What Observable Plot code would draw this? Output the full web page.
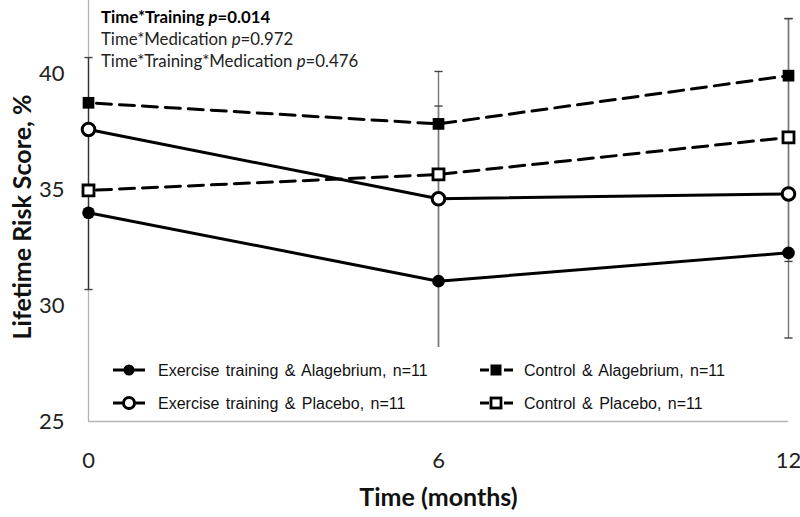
<!DOCTYPE html>
<html>
<head>
<meta charset="utf-8">
<script src="https://cdn.jsdelivr.net/npm/d3@7"></script>
<script src="https://cdn.jsdelivr.net/npm/@observablehq/plot@0.6"></script>
<style>
  html, body { margin: 0; padding: 0; background: #fff; }
  #wrap { position: relative; width: 800px; height: 517px; }
  #note { position: absolute; left: 101px; top: 6px; font-family: Lato, "Open Sans", sans-serif; font-size: 16.8px; line-height: 22px; color: #222; }
  #note .b { font-weight: bold; color: #000; }
  #legend { position: absolute; left: 0; top: 0; pointer-events: none; }
</style>
</head>
<body>
<div id="wrap">
  <div id="chart"></div>
  <div id="note"></div>
  <svg id="legend" width="800" height="517"></svg>
</div>
<script>
// ---- data ----
const months = [0, 6, 12];
const xTicks = [0, 6, 12];
const yTicks = [25, 30, 35, 40];
const seriesNames = [
  "Exercise training & Alagebrium, n=11",
  "Exercise training & Placebo, n=11",
  "Control & Alagebrium, n=11",
  "Control & Placebo, n=11"
];
const exAlag = [34.0, 31.05, 32.27];
const exPlac = [37.59, 34.6, 34.81];
const ctAlag = [38.74, 37.83, 39.91];
const ctPlac = [34.96, 35.65, 37.25];
// error bars (x, low, high)
const errX = [0, 6, 6, 12, 12];
const errLow = [30.69, 27.6, 27.6, 28.6, 31.9];
const errHigh = [40.69, 40.09, 38.6, 42.37, 42.37];
const notes = [
  ["Time*Training ", "p", "=0.014", true],
  ["Time*Medication ", "p", "=0.972", false],
  ["Time*Training*Medication ", "p", "=0.476", false]
];

// ---- build tables ----
const allSeries = [exAlag, exPlac, ctAlag, ctPlac];
const rows = [];
allSeries.forEach((vals, si) => vals.forEach((v, i) => rows.push({series: seriesNames[si], si, month: months[i], value: v})));
const errs = errX.map((x, i) => ({month: x, low: errLow[i], high: errHigh[i]}));

const capSymbol = {draw(ctx, size) { const w = Math.sqrt(size); ctx.moveTo(-w, 0); ctx.lineTo(w, 0); }};
const solid = rows.filter(d => d.si < 2);
const dashed = rows.filter(d => d.si >= 2);

const chart = Plot.plot({
  width: 800,
  height: 517,
  marginLeft: 88,
  marginRight: 12,
  marginTop: 0,
  marginBottom: 96,
  style: {fontFamily: "Lato, 'Open Sans', sans-serif", fontSize: "22px", color: "#222", background: "#fff"},
  x: {domain: [0, 12], ticks: xTicks, tickSize: 0, tickPadding: 31, label: null, line: false},
  y: {domain: [25, 43.15], ticks: yTicks, tickSize: 0, tickPadding: 24, label: null, line: false},
  marks: [
    Plot.ruleX([0], {stroke: "#b4b4b4", strokeWidth: 1.3}),
    Plot.ruleY([25], {stroke: "#b4b4b4", strokeWidth: 1.5}),
    Plot.link(errs, {x1: "month", x2: "month", y1: "low", y2: "high", stroke: d => d.month === 0 ? "#333" : "#777", strokeWidth: 1.4}),
    Plot.dot(errs, {x: "month", y: "low", symbol: capSymbol, r: 2.3, stroke: "#444", strokeWidth: 1.4}),
    Plot.dot(errs, {x: "month", y: "high", symbol: capSymbol, r: 2.3, stroke: "#444", strokeWidth: 1.4}),
    Plot.line(solid, {x: "month", y: "value", z: "series", stroke: "#000", strokeWidth: 3}),
    Plot.line(dashed, {x: "month", y: "value", z: "series", stroke: "#000", strokeWidth: 3, strokeDasharray: "15,8", strokeDashoffset: -8}),
    Plot.dot(rows.filter(d => d.si === 0), {x: "month", y: "value", r: 6.3, fill: "#000", stroke: "none"}),
    Plot.dot(rows.filter(d => d.si === 1), {x: "month", y: "value", r: 6.3, fill: "#fff", stroke: "#000", strokeWidth: 3}),
    Plot.dot(rows.filter(d => d.si === 2), {x: "month", y: "value", r: 6.6, symbol: "square", fill: "#000", stroke: "none"}),
    Plot.dot(rows.filter(d => d.si === 3), {x: "month", y: "value", r: 6.2, symbol: "square", fill: "#fff", stroke: "#000", strokeWidth: 2.8}),
    Plot.text(["Time (months)"], {frameAnchor: "bottom", dy: 76, fontSize: 25, fontWeight: "bold", fill: "#111", lineAnchor: "middle", textAnchor: "middle"}),
    Plot.text(["Lifetime Risk Score, %"], {frameAnchor: "left", dx: -66, dy: 6, rotate: -90, fontSize: 25, fontWeight: "bold", fill: "#111", lineAnchor: "middle", textAnchor: "middle"})
  ]
});
document.getElementById("chart").appendChild(chart);

// ---- annotation ----
const note = document.getElementById("note");
notes.forEach(([a, p, b, bold]) => {
  const div = document.createElement("div");
  if (bold) div.className = "b";
  div.append(a);
  const i = document.createElement("i"); i.textContent = p; div.append(i);
  div.append(b);
  note.appendChild(div);
});

// ---- legend (overlay) ----
const lg = d3.select("#legend");
lg.append("rect").attr("x", 100).attr("y", 347).attr("width", 682).attr("height", 72).attr("fill", "#fff");
const pos = [[113, 370], [113, 403], [480, 370], [480, 403]];
seriesNames.forEach((name, si) => {
  const [x0, y] = pos[si];
  const g = lg.append("g");
  const cx = x0 + 16;
  if (si < 2) {
    g.append("line").attr("x1", x0).attr("x2", x0 + 32).attr("y1", y).attr("y2", y).attr("stroke", "#000").attr("stroke-width", 3);
  } else {
    g.append("line").attr("x1", x0).attr("x2", x0 + 9).attr("y1", y).attr("y2", y).attr("stroke", "#000").attr("stroke-width", 3);
    g.append("line").attr("x1", x0 + 24).attr("x2", x0 + 33).attr("y1", y).attr("y2", y).attr("stroke", "#000").attr("stroke-width", 3);
  }
  if (si === 0) g.append("circle").attr("cx", cx).attr("cy", y).attr("r", 5.5).attr("fill", "#000");
  if (si === 1) g.append("circle").attr("cx", cx).attr("cy", y).attr("r", 5.5).attr("fill", "#fff").attr("stroke", "#000").attr("stroke-width", 3);
  if (si === 2) g.append("rect").attr("x", cx - 5.5).attr("y", y - 5.5).attr("width", 11).attr("height", 11).attr("fill", "#000");
  if (si === 3) g.append("rect").attr("x", cx - 5).attr("y", y - 5).attr("width", 10).attr("height", 10).attr("fill", "#fff").attr("stroke", "#000").attr("stroke-width", 2.8);
  g.append("text").attr("x", si < 2 ? 158 : 524).attr("y", y).attr("dy", "0.36em")
    .attr("font-family", "'Liberation Sans', Arial, sans-serif").attr("font-size", 16)
    .attr("word-spacing", 2).attr("fill", "#111").text(name);
});
</script>
</body>
</html>
